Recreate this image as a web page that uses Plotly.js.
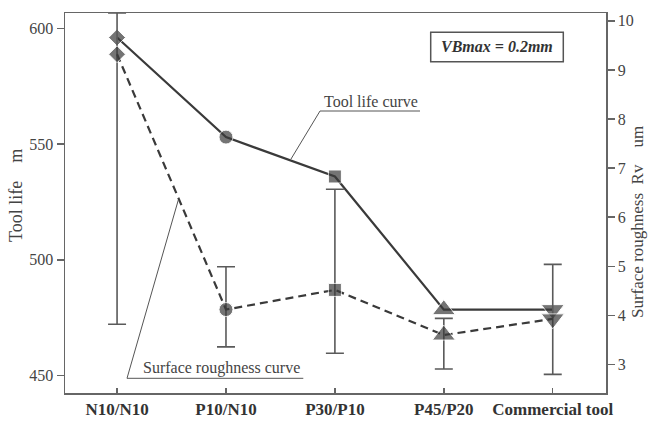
<!DOCTYPE html>
<html>
<head>
<meta charset="utf-8">
<script src="https://cdn.plot.ly/plotly-3.0.1.min.js"></script>
<style>html,body{margin:0;padding:0;background:#fff;}#chart{width:649px;height:421px;}</style>
</head>
<body>
<div id="chart"></div>
<script>
// ---- Data ----
const categories = ['N10/N10', 'P10/N10', 'P30/P10', 'P45/P20', 'Commercial tool'];
const toolLife = [596, 553, 536, 478.5, 478.5];           // m (left axis)
const roughness = [9.32, 4.12, 4.52, 3.60, 3.93];         // Rv um (right axis)
const roughErrPlus = [0.84, 0.87, 2.05, 0.34, 1.11];
const roughErrMinus = [5.50, 0.76, 1.29, 0.69, 1.13];
const leftTicks = [450, 500, 550, 600];
const rightTicks = [3, 4, 5, 6, 7, 8, 9, 10];

const xIdx = categories.map((c, i) => i);
const symbols = ['diamond', 'circle', 'square', 'triangle-up', 'triangle-down'];
const sizes = [13, 14, 13, 20, 20];
const ink = '#3a3a3a';
const axisCol = '#666';
const serif = 'Liberation Serif, Times New Roman, serif';

const traces = [
  {
    x: xIdx, y: roughness, yaxis: 'y2', type: 'scatter', mode: 'lines+markers',
    line: {color: ink, width: 2.2, dash: '8px,5px'},
    marker: {symbol: symbols, size: sizes, color: ink},
    error_y: {type: 'data', symmetric: false, array: roughErrPlus, arrayminus: roughErrMinus,
              color: '#5a5a5a', thickness: 1.6, width: 9},
    hoverinfo: 'skip'
  },
  {
    x: xIdx, y: toolLife, type: 'scatter', mode: 'lines+markers',
    line: {color: ink, width: 2.2},
    marker: {symbol: symbols, size: sizes, color: ink},
    hoverinfo: 'skip'
  }
];

const P = (px) => (px - 65) / 541;
const Q = (py) => (393 - py) / 380;

const layout = {
  width: 649, height: 421,
  margin: {l: 65, r: 43, t: 13, b: 28},
  paper_bgcolor: '#fff', plot_bgcolor: '#fff',
  showlegend: false,
  font: {family: serif, color: '#444'},
  xaxis: {
    range: [-0.478, 4.489], tickvals: xIdx, ticktext: categories.map(c => '<b>' + c + '</b>'),
    ticks: 'inside', ticklen: 5, tickcolor: axisCol, tickwidth: 1.5,
    showline: true, linecolor: axisCol, linewidth: 1.5, mirror: true,
    showgrid: false, zeroline: false,
    tickfont: {family: serif, size: 17, color: '#333'}
  },
  yaxis: {
    range: [442.5, 606.6], tickvals: leftTicks,
    ticks: 'outside', ticklen: 7, tickcolor: axisCol, tickwidth: 1.5,
    showline: true, linecolor: axisCol, linewidth: 1.5,
    showgrid: false, zeroline: false,
    tickfont: {family: serif, size: 16, color: '#444'}
  },
  yaxis2: {
    overlaying: 'y', side: 'right',
    range: [2.42, 10.16], tickvals: rightTicks,
    ticks: 'outside', ticklen: 7, tickcolor: axisCol, tickwidth: 1.5,
    showline: true, linecolor: axisCol, linewidth: 1.5,
    showgrid: false, zeroline: false,
    tickfont: {family: serif, size: 16, color: '#444'}
  },
  shapes: [
    {type: 'rect', xref: 'paper', yref: 'paper', x0: P(430.7), x1: P(563.3), y0: Q(61.7), y1: Q(32.3),
     line: {color: '#555', width: 1.5}},
    {type: 'path', xref: 'paper', yref: 'paper',
     path: 'M' + P(291) + ',' + Q(159) + ' L' + P(320) + ',' + Q(111) + ' L' + P(420) + ',' + Q(111),
     line: {color: '#555', width: 1}},
    {type: 'path', xref: 'paper', yref: 'paper',
     path: 'M' + P(178.3) + ',' + Q(200) + ' L' + P(127) + ',' + Q(378.3) + ' L' + P(303.3) + ',' + Q(378.3),
     line: {color: '#555', width: 1}}
  ],
  annotations: [
    {xref: 'paper', yref: 'paper', x: P(16), y: Q(196), text: 'Tool life\u00a0\u00a0\u00a0\u00a0m',
     textangle: -90, showarrow: false, xanchor: 'center', yanchor: 'middle',
     font: {family: serif, size: 18, color: '#444'}},
    {xref: 'paper', yref: 'paper', x: P(637), y: Q(222), text: 'Surface roughness\u00a0\u00a0Rv\u00a0\u00a0\u00a0\u00a0um',
     textangle: -90, showarrow: false, xanchor: 'center', yanchor: 'middle', borderpad: 0,
     font: {family: serif, size: 17, color: '#444'}},
    {xref: 'paper', yref: 'paper', x: P(497), y: Q(47), text: '<b><i>VBmax = 0.2mm</i></b>',
     showarrow: false, xanchor: 'center', yanchor: 'middle',
     font: {family: serif, size: 16, color: '#333'}},
    {xref: 'paper', yref: 'paper', x: P(371), y: Q(101), text: 'Tool life curve',
     showarrow: false, xanchor: 'center', yanchor: 'middle',
     font: {family: serif, size: 16, color: '#444'}},
    {xref: 'paper', yref: 'paper', x: P(221.3), y: Q(368), text: 'Surface roughness curve',
     showarrow: false, xanchor: 'center', yanchor: 'middle',
     font: {family: serif, size: 16, color: '#444'}}
  ]
};

Plotly.newPlot('chart', traces, layout, {staticPlot: true, displayModeBar: false});
</script>
</body>
</html>
